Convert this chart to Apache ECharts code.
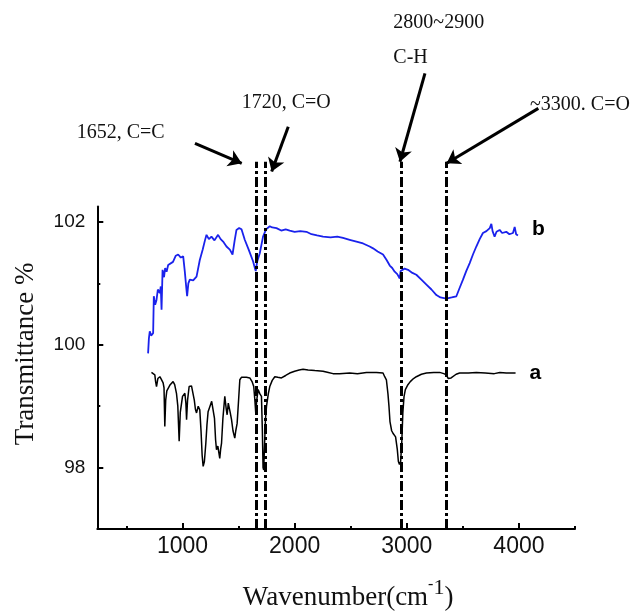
<!DOCTYPE html>
<html><head><meta charset="utf-8">
<script src="https://cdn.jsdelivr.net/npm/echarts@6/dist/echarts.min.js"></script>
<style>html,body{margin:0;padding:0;background:#fff}#c{width:634px;height:611px}</style>
</head><body><div id="c"></div>
<script>
// ---- data ----
const wavenumberB = [693,700,708,720,738,744,756,768,780,798,806,813,822,835,845,858,872,887,915,940,961,985,1006,1020,1035,1041,1052,1065,1095,1125,1154,1180,1200,1214,1235,1258,1285,1317,1340,1362,1392,1422,1446,1465,1481,1505,1526,1555,1590,1629,1645,1653,1665,1689,1718,1745,1778,1800,1838,1880,1920,1956,2000,2050,2105,2150,2200,2253,2320,2380,2431,2491,2551,2610,2669,2699,2740,2788,2820,2848,2870,2892,2915,2937,2945,2952,2980,3011,3050,3085,3130,3175,3220,3264,3300,3353,3400,3442,3470,3501,3530,3561,3590,3620,3650,3679,3710,3740,3754,3765,3783,3800,3828,3850,3887,3915,3947,3962,3975,3991];
const transmittanceB = [99.86,100.1,100.22,100.15,100.19,100.79,100.65,100.73,100.9,100.84,100.95,100.57,101.22,101.1,101.25,101.19,101.3,101.33,101.35,101.45,101.47,101.42,101.44,101.2,100.9,100.79,101.0,101.06,101.05,101.11,101.38,101.55,101.7,101.79,101.72,101.76,101.7,101.79,101.72,101.68,101.6,101.55,101.47,101.7,101.87,101.9,101.88,101.71,101.55,101.36,101.25,101.2,101.35,101.49,101.76,101.88,101.93,101.91,101.9,101.86,101.88,101.86,101.84,101.85,101.84,101.8,101.78,101.76,101.75,101.76,101.74,101.71,101.68,101.65,101.6,101.57,101.52,101.47,101.38,101.29,101.25,101.19,101.15,101.08,101.2,101.22,101.24,101.22,101.17,101.14,101.06,100.98,100.9,100.81,100.77,100.75,100.77,100.79,100.92,101.06,101.2,101.33,101.47,101.6,101.72,101.82,101.85,101.9,101.97,101.85,101.76,101.84,101.87,101.82,101.84,101.8,101.82,101.92,101.8,101.78];

const wavenumberA = [723,740,753,760,768,780,798,810,827,835,842,850,860,872,890,916,930,946,958,970,980,1000,1021,1030,1036,1045,1059,1080,1095,1105,1115,1125,1140,1154,1165,1175,1184,1195,1208,1218,1228,1245,1260,1273,1285,1295,1303,1315,1332,1340,1348,1360,1377,1390,1398,1408,1415,1425,1437,1450,1466,1475,1487,1500,1511,1525,1540,1570,1600,1620,1635,1645,1653,1662,1674,1690,1704,1712,1718,1724,1732,1740,1749,1765,1778,1800,1823,1850,1882,1920,1956,2000,2040,2075,2120,2180,2253,2300,2342,2400,2491,2560,2640,2729,2788,2803,2818,2832,2841,2850,2865,2880,2900,2915,2925,2935,2945,2955,2965,2975,2987,3010,3031,3060,3085,3130,3175,3240,3293,3330,3353,3370,3382,3395,3412,3440,3471,3550,3620,3700,3780,3830,3887,3930,3970];
const transmittanceA = [99.55,99.53,99.51,99.4,99.32,99.45,99.48,99.44,99.38,99.3,98.67,99.1,99.25,99.29,99.35,99.4,99.35,99.21,99.0,98.43,98.9,99.16,99.21,99.05,98.78,99.1,99.32,99.33,99.32,99.1,98.95,98.89,99.0,98.94,98.6,98.2,98.02,98.1,98.4,98.7,98.91,99.0,99.08,99.1,98.8,98.45,98.29,98.35,98.15,98.3,98.4,98.8,99.16,98.95,98.86,99.05,99.02,98.9,98.78,98.6,98.48,98.6,98.72,99.1,99.43,99.47,99.48,99.47,99.46,99.4,99.32,99.1,98.89,99.1,99.27,99.2,99.16,98.6,98.0,97.96,98.4,98.8,99.0,99.2,99.32,99.42,99.48,99.47,99.46,99.5,99.54,99.57,99.59,99.6,99.59,99.58,99.57,99.55,99.53,99.53,99.54,99.53,99.55,99.55,99.54,99.48,99.43,99.2,99.0,98.75,98.6,98.55,98.5,98.3,98.1,98.05,98.1,98.4,98.9,99.15,99.27,99.35,99.4,99.45,99.48,99.52,99.54,99.55,99.55,99.53,99.51,99.45,99.43,99.46,99.48,99.52,99.54,99.54,99.55,99.54,99.53,99.55,99.54,99.54,99.54];

const seriesLabels = ['b', 'a'];
const xMajorTicks = [1000, 2000, 3000, 4000];
const xMinorTicks = [500, 1500, 2500, 3500, 4500];
const yMajorTicks = [98, 100, 102];
const yMinorTicks = [99, 101];

// annotation positions (wavenumber, transmittance)
const markerLines = [1660, 1735, 2955, 3350];
const markerTop = 102.98;
const arrows = [
  [[1111, 103.28], [1528, 102.955]],
  [[1943, 103.55], [1795, 102.82]],
  [[3162, 104.42], [2939, 102.98]],
  [[4173, 103.85], [3356, 102.955]]
];
const annotTexts = [
  ['1652, C=C', 56, 103.457],
  ['1720, C=O', 1528, 103.937],
  ['2800~2900', 2880, 105.24],
  ['C-H', 2880, 104.678],
  ['~3300. C=O', 4099, 103.904]
];

// ---- layout ----
const W = 634, H = 611;
const gL = 97.3, gR = 59, gT = 206.6, gB = 82;
const xMin = 240, xMax = 4500, yMin = 97, yMax = 102.25;
const kx = (xMax - xMin) / (W - gL - gR);
const ky = (yMax - yMin) / (H - gT - gB);
const oxMin = xMin - gL * kx, oxMax = xMax + gR * kx;
const oyMin = yMin - gB * ky, oyMax = yMax + gT * ky;

const zip = (a, b) => a.map((v, i) => [v, b[i]]);
const chart = echarts.init(document.getElementById('c'), null, {renderer: 'canvas'});

const endLab = (txt, off) => ({
  show: true, formatter: txt, distance: 14, offset: off,
  fontSize: 21, fontWeight: 'bold', fontFamily: 'Liberation Sans', color: '#000'
});

chart.setOption({
  animation: false,
  backgroundColor: '#fff',
  textStyle: {fontFamily: 'Liberation Sans'},
  grid: [
    {left: gL, right: gR, top: gT, bottom: gB, containLabel: false, outerBoundsMode: 'none'},
    {left: 0, right: 0, top: 0, bottom: 0, containLabel: false, outerBoundsMode: 'none'}
  ],
  xAxis: [
    {gridIndex: 0, type: 'value', min: xMin, max: xMax, position: 'bottom',
     axisLine: {show: true, lineStyle: {color: '#000', width: 2}},
     axisTick: {show: true, inside: true, length: 6, customValues: xMajorTicks, lineStyle: {color: '#000', width: 2}},
     axisLabel: {show: true, customValues: xMajorTicks, formatter: v => String(v), fontSize: 23, color: '#111', margin: 6, fontFamily: 'Liberation Sans'},
     splitLine: {show: false},
     name: '{t|Wavenumber(cm}{s|-}{u|1}{t|)}', nameLocation: 'middle', nameGap: 48,
     nameTextStyle: {padding: [0, 0, 0, 24], rich: {
       t: {fontSize: 27, fontFamily: 'Liberation Serif', color: '#111', lineHeight: 34, verticalAlign: 'bottom'},
       s: {fontSize: 16, fontFamily: 'Liberation Serif', color: '#111', verticalAlign: 'top', lineHeight: 34},
       u: {fontSize: 22, fontFamily: 'Liberation Serif', color: '#111', verticalAlign: 'top', lineHeight: 34}
     }}},
    {gridIndex: 0, type: 'value', min: xMin, max: xMax, position: 'bottom',
     axisLine: {show: false},
     axisTick: {show: true, inside: true, length: 3, customValues: xMinorTicks, lineStyle: {color: '#000', width: 2}},
     axisLabel: {show: false}, splitLine: {show: false}},
    {gridIndex: 1, type: 'value', min: oxMin, max: oxMax, show: false}
  ],
  yAxis: [
    {gridIndex: 0, type: 'value', min: yMin, max: yMax, position: 'left',
     axisLine: {show: true, lineStyle: {color: '#000', width: 2}},
     axisTick: {show: true, inside: true, length: 6, customValues: yMajorTicks, lineStyle: {color: '#000', width: 2}},
     axisLabel: {show: true, customValues: yMajorTicks, formatter: v => String(v), fontSize: 19, color: '#111', margin: 12, fontFamily: 'Liberation Sans'},
     splitLine: {show: false},
     name: 'Transmittance %', nameLocation: 'middle', nameGap: 58, nameRotate: 90,
     nameTextStyle: {fontSize: 27, fontFamily: 'Liberation Serif', color: '#111', padding: [0, 0, 0, 28]}},
    {gridIndex: 0, type: 'value', min: yMin, max: yMax, position: 'left',
     axisLine: {show: false},
     axisTick: {show: true, inside: true, length: 3, customValues: yMinorTicks, lineStyle: {color: '#000', width: 2}},
     axisLabel: {show: false}, splitLine: {show: false}},
    {gridIndex: 1, type: 'value', min: oyMin, max: oyMax, show: false}
  ],
  series: [
    {type: 'line', xAxisIndex: 0, yAxisIndex: 0, data: zip(wavenumberB, transmittanceB),
     showSymbol: false, symbol: 'none', lineStyle: {color: '#1a22ec', width: 1.8}, itemStyle: {color: '#1a22ec'},
     endLabel: endLab(seriesLabels[0], [0, -6]), silent: true},
    {type: 'line', xAxisIndex: 0, yAxisIndex: 0, data: zip(wavenumberA, transmittanceA),
     showSymbol: false, symbol: 'none', lineStyle: {color: '#000', width: 1.5}, itemStyle: {color: '#000'},
     endLabel: endLab(seriesLabels[1], [0, 0]), silent: true},
    {type: 'line', xAxisIndex: 2, yAxisIndex: 2, data: [[0, 100]], showSymbol: false, silent: true,
     lineStyle: {opacity: 0},
     markLine: {silent: true, symbol: ['none', 'none'], label: {show: false}, emphasis: {disabled: true},
       lineStyle: {color: '#000', width: 3, type: [10, 3, 3, 3]},
       data: markerLines.map(v => [{coord: [v, yMin]}, {coord: [v, markerTop]}])}},
    {type: 'line', xAxisIndex: 2, yAxisIndex: 2, data: [[0, 100]], showSymbol: false, silent: true,
     lineStyle: {opacity: 0},
     markLine: {silent: true, symbol: ['none', 'arrow'], symbolSize: 13, label: {show: false}, emphasis: {disabled: true},
       lineStyle: {color: '#000', width: 3, type: 'solid'},
       data: arrows.map(a => [{coord: a[0]}, {coord: a[1]}])},
     markPoint: {silent: true, symbol: 'circle', symbolSize: 0,
       label: {show: true, position: 'right', distance: 0, fontSize: 20, fontFamily: 'Liberation Serif', color: '#111',
               formatter: p => p.name},
       data: annotTexts.map(t => ({name: t[0], coord: [t[1], t[2]]}))}}
  ]
});
</script>
</body></html>
